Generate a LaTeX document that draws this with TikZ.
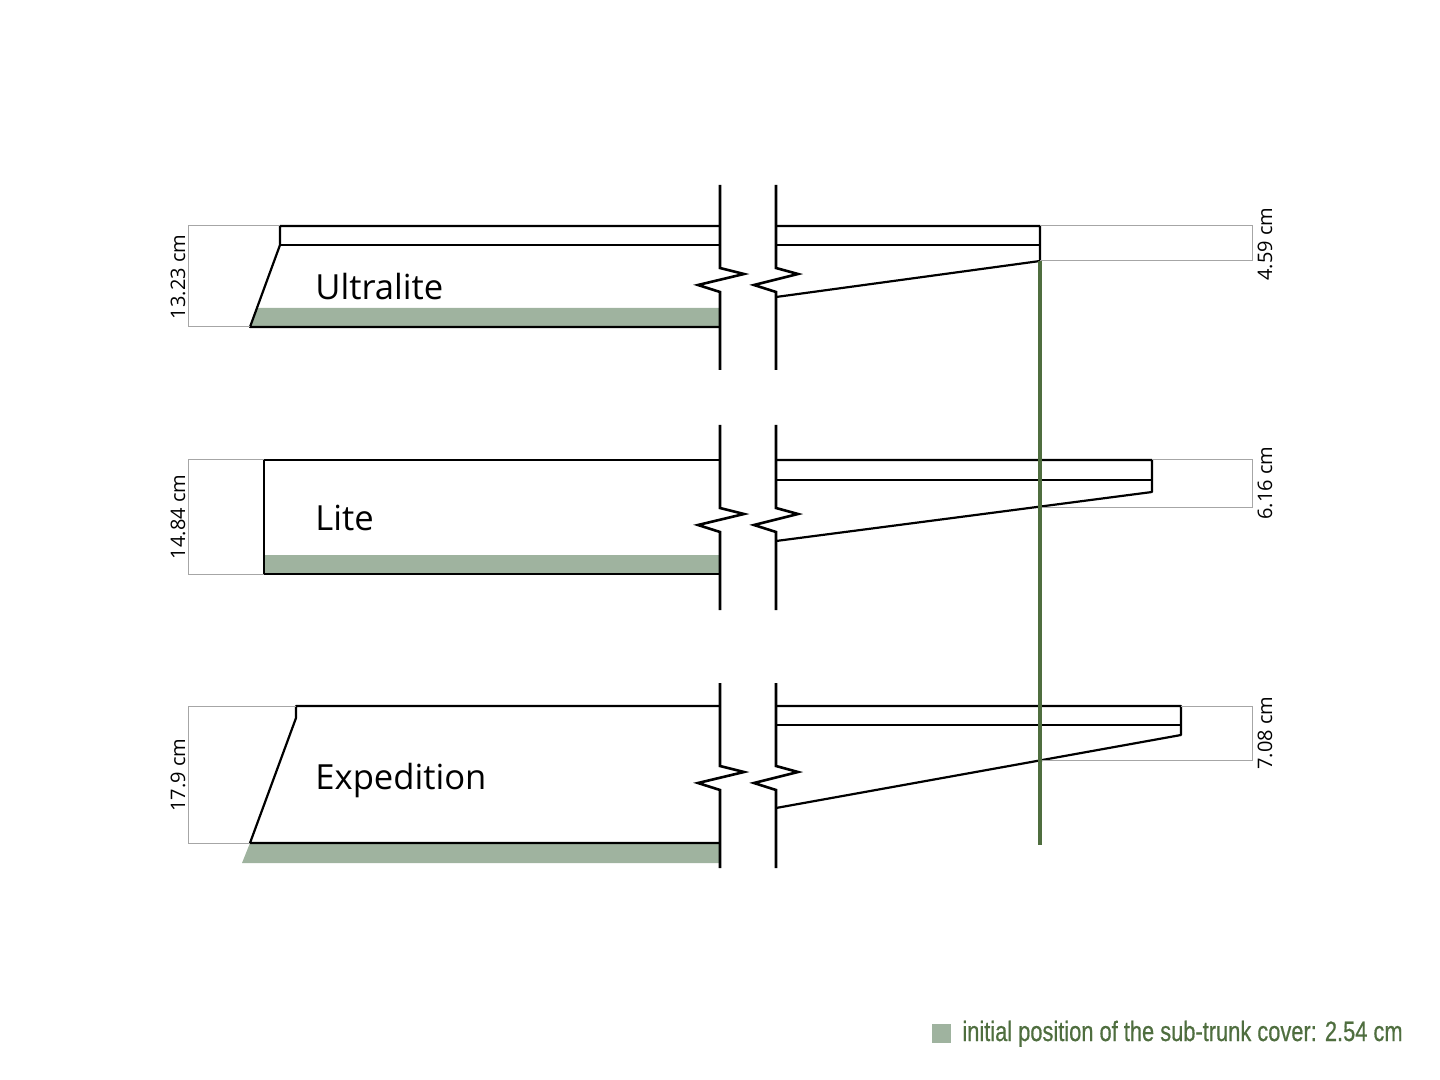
\documentclass[tikz,border=0pt]{standalone}
\usepackage{fontspec}
\setmainfont{Open Sans}
\newfontfamily\cond[FakeStretch=0.78,FakeBold=0.6]{Liberation Sans}
\definecolor{cover}{HTML}{9FB39F}
\definecolor{dkgreen}{HTML}{4F6E3F}
\begin{document}
\begin{tikzpicture}[x=0.5pt,y=-0.5pt,
  obj/.style={line width=1.1pt,line join=round},
  dim/.style={draw=gray!70,line width=0.5pt},
  brk/.style={line width=1.3pt},
  modelname/.style={font=\fontsize{17.3}{20}\selectfont,anchor=base west,inner sep=0},
  dl/.style={font=\fontsize{10}{12}\selectfont,rotate=90,inner sep=0}]
\useasboundingbox (0,0) rectangle (1440,1080);
% ---------- Ultralite
\fill[cover] (257,308) -- (720,308) -- (720,327) -- (250,327) -- cycle;
\draw[obj] (720,226) -- (280,226) -- (280,245) -- (250,327) -- (720,327);
\draw[obj] (280,245) -- (720,245);
\draw[obj] (776,226) -- (1040,226) -- (1040,261) -- (776,297);
\draw[obj] (776,245) -- (1040,245);
\draw[dim] (280,226) -- (188,226) -- (188,327) -- (250,327);
\draw[dim] (1040,226) -- (1252,226) -- (1252,261) -- (1040,261);
\node[dl] (d1) at (178,277) {13.23 cm};
\node[dl] (d1r) at (1265,244) {4.59 cm};
\node[modelname] (n1) at (315,300) {Ultralite};
\draw[brk] (720,185) -- (720,268) -- (744,274) -- (698,285) -- (720,292) -- (720,370);
\draw[brk] (776,185) -- (776,268) -- (798,274) -- (754,285) -- (776,292) -- (776,370);
% ---------- Lite
\fill[cover] (264,555) rectangle (720,574);
\draw[obj] (720,460) -- (264,460) -- (264,574) -- (720,574);
\draw[obj] (776,460) -- (1152,460) -- (1152,492) -- (776,541);
\draw[obj] (776,480) -- (1152,480);
\draw[dim] (264,460) -- (188,460) -- (188,574) -- (264,574);
\draw[dim] (1152,460) -- (1252,460) -- (1252,507) -- (1040,507);
\node[dl] (d2) at (178,517) {14.84 cm};
\node[dl] (d2r) at (1265,483) {6.16 cm};
\node[modelname] (n2) at (315,530) {Lite};
\draw[brk] (720,425) -- (720,508) -- (744,514) -- (698,525) -- (720,532) -- (720,610);
\draw[brk] (776,425) -- (776,508) -- (798,514) -- (754,525) -- (776,532) -- (776,610);
% ---------- Expedition
\fill[cover] (250,843) -- (720,843) -- (720,863) -- (242,863) -- cycle;
\draw[obj] (720,706) -- (296,706) -- (296,718) -- (250,843) -- (720,843);
\draw[obj] (776,706) -- (1181,706) -- (1181,735) -- (776,808);
\draw[obj] (776,725) -- (1181,725);
\draw[dim] (296,706) -- (188,706) -- (188,843) -- (250,843);
\draw[dim] (1181,706) -- (1252,706) -- (1252,760) -- (1040,760);
\node[dl] (d3) at (178,775) {17.9 cm};
\node[dl] (d3r) at (1265,733) {7.08 cm};
\node[modelname] (n3) at (315,789) {Expedition};
\draw[brk] (720,683) -- (720,766) -- (744,772) -- (698,783) -- (720,790) -- (720,868);
\draw[brk] (776,683) -- (776,766) -- (798,772) -- (754,783) -- (776,790) -- (776,868);
% ---------- green reference line
\draw[dkgreen,line width=1.6pt] (1040,261) -- (1040,845);
% ---------- legend
\fill[cover] (932,1024) rectangle (951,1043);
\node[anchor=base west,inner sep=0,text=dkgreen,font=\cond\fontsize{14}{16}\selectfont] (leg) at (962,1041) {initial position of the sub-trunk cover: 2.54 cm};
\end{tikzpicture}
\end{document}
